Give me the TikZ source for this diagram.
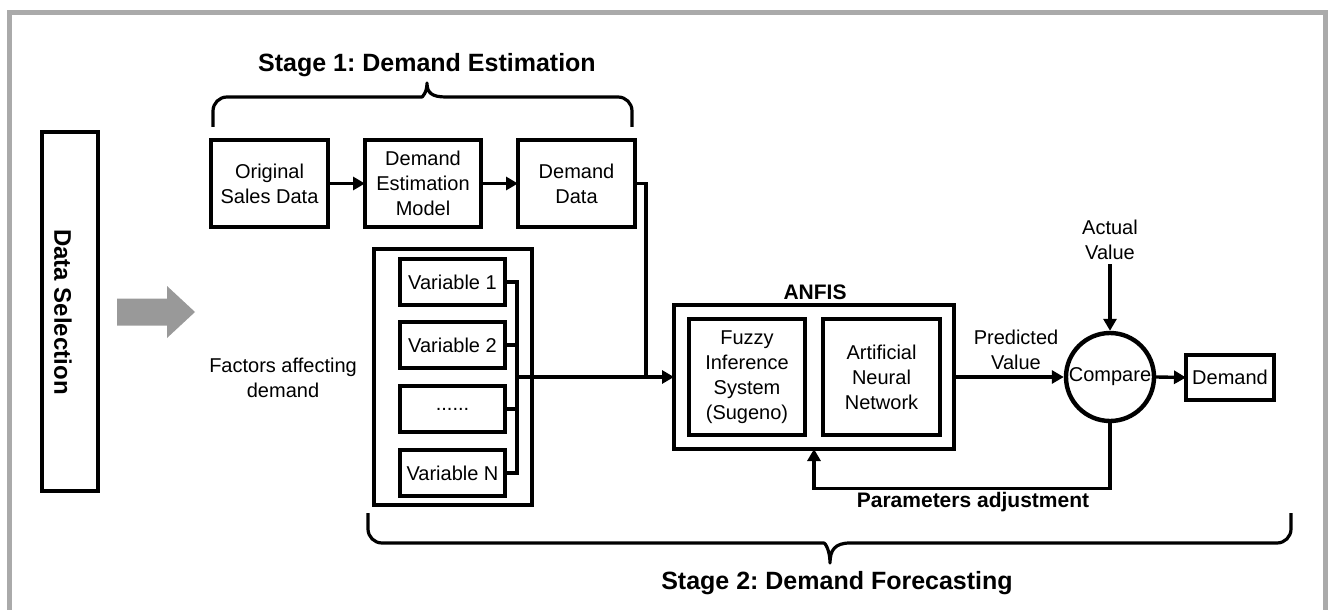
\documentclass[tikz,border=0pt]{standalone}
\usepackage{fontspec}
\setmainfont{Liberation Sans}
\usetikzlibrary{arrows.meta}
\definecolor{framegray}{HTML}{AAAAAA}
\definecolor{arrowgray}{HTML}{999999}
\frenchspacing

\begin{document}
\begin{tikzpicture}[x=0.5pt,y=-0.5pt,
        box/.style={draw,line width=2.2pt,inner sep=0pt,outer sep=0pt,align=center,font=\fontsize{10}{12.5}\selectfont},
        lbl/.style={align=center,font=\fontsize{10}{12.5}\selectfont},
        title/.style={font=\fontsize{12.5}{15}\selectfont\bfseries},
        boldlbl/.style={font=\fontsize{10.5}{12.5}\selectfont\bfseries},
        conn/.style={line width=1.7pt},
        arr/.style={conn,-{Triangle[length=6pt,width=6.5pt]}},
        brace/.style={line width=1.6pt,line join=round}]
        \useasboundingbox (0,0) rectangle (1328,610);
        \draw[framegray,line width=2.5pt] (9.5,610) -- (9.5,12.5) -- (1325.5,12.5) -- (1325.5,610);

        \node[title] (st1) at (427,65) {Stage 1: Demand Estimation};
        \draw[brace] (213,127) [rounded corners=7pt] -- (213,97) -- (408,97) [sharp corners] .. controls (422,97) and (427,93) .. (427,83) .. controls (427,93) and (432,97) .. (446,97) [rounded corners=7pt] -- (632,97) -- (632,127);
        \node[box,minimum width=58.5pt,minimum height=43.5pt] (osd) at (269.5,183.5) {Original\\Sales Data};
        \node[box,minimum width=58pt,minimum height=43.5pt] (dem) at (423,183.5) {Demand\\Estimation\\Model};
        \node[box,minimum width=58.5pt,minimum height=43.5pt] (dd) at (576.5,183.5) {Demand\\Data};
        \draw[arr] (osd.east) -- (dem.west);
        \draw[arr] (dem.east) -- (dd.west);

        \node[box,minimum width=28pt,minimum height=179.5pt] (dsel) at (70,311.5) {};
        \node[rotate=-90,font=\fontsize{12}{14}\selectfont\bfseries] (dseltxt) at (63,312) {Data Selection};
        \fill[arrowgray] (117,298.5) -- (167,298.5) -- (167,286) -- (195,312) -- (167,338) -- (167,325.5) -- (117,325.5) -- cycle;

        \node[lbl] (fac) at (283,377.5) {Factors affecting\\demand};
        \node[box,minimum width=79pt,minimum height=128pt] (vars) at (453,377) {};
        \foreach \n/\t/\y in {1/Variable 1/282,2/Variable 2/345,3/{......}/409,4/Variable N/473}
            \node[box,minimum width=52.5pt,minimum height=23pt] (v\n) at (452.5,\y) {\t};
        \coordinate (bus) at (517,377);
        \draw[conn] (v1.east) -| (bus) |- (v4.east);
        \foreach \n in {2,3}
            \draw[conn] (v\n.east) -- (v\n.east -| bus);

        \node[box,minimum width=140pt,minimum height=72pt] (anfis) at (814,377) {};
        \node[boldlbl] (anfislbl) at (815,292) {ANFIS};
        \node[box,minimum width=58pt,minimum height=58pt] (fis) at (747,377) {Fuzzy\\Inference\\System\\(Sugeno)};
        \node[box,minimum width=58.5pt,minimum height=58pt] (ann) at (881.5,377) {Artificial\\Neural\\Network};
        \coordinate (join) at (646,377);
        \draw[conn] (dd.east) -| (join);
        \draw[arr] (bus) -- (anfis.west);

        \node[draw,circle,line width=2.2pt,minimum size=44pt,inner sep=0pt,font=\fontsize{10}{12.5}\selectfont] (cmp) at (1110,377) {Compare};
        \node[box,minimum width=44pt,minimum height=22.5pt] (dmd) at (1230,377.5) {Demand};
        \node[lbl] (pred) at (1016,349.5) {Predicted\\Value};
        \node[lbl,inner sep=2pt] (act) at (1110,240) {Actual\\Value};
        \draw[arr] (anfis.east) -- (cmp.west);
        \draw[arr] (cmp.east) -- (dmd.west);
        \draw[arr] (act.south) -- (cmp.north);
        \draw[arr] (cmp.south) -- ++(0,65) -| (anfis.south);
        \node[boldlbl] (padj) at (973,502) {Parameters adjustment};

        \draw[brace] (368,513) [rounded corners=7pt] -- (368,543) -- (810,543) [sharp corners] .. controls (825,543) and (830,550) .. (830,563) .. controls (830,550) and (835,543) .. (850,543) [rounded corners=7pt] -- (1291,543) -- (1291,513);
        \node[title] (st2) at (837,583) {Stage 2: Demand Forecasting};
    \end{tikzpicture}
\end{document}
